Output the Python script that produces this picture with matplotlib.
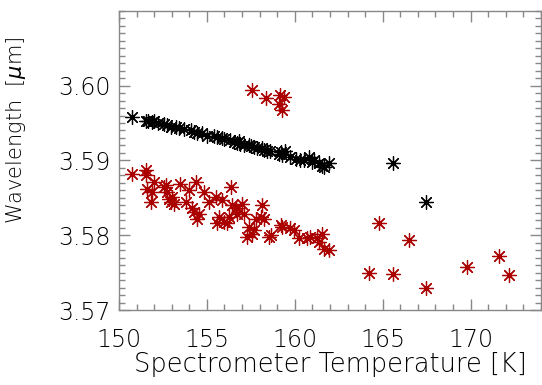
import matplotlib
matplotlib.use('Agg')
import matplotlib.pyplot as plt
from matplotlib.ticker import MultipleLocator, FixedLocator

# black series (wavelength vs spectrometer temperature)
black_temp = [150.72, 151.52, 151.67, 151.86, 151.99, 152.2, 152.56, 152.75, 152.94,
              153.22, 153.41, 153.7, 154.07, 154.26, 154.45, 154.73, 155.02, 155.4,
              155.6, 155.87, 156.0, 156.34, 156.53, 156.72, 156.82, 156.9, 157.1,
              157.39, 157.5, 157.67, 157.86, 158.14, 158.24, 158.43, 158.6, 159.09,
              159.2, 159.28, 159.47, 159.75, 160.04, 160.32, 160.5, 160.8, 160.98,
              161.1, 161.36, 161.55, 161.65, 161.93, 165.57, 167.46]
black_wave = [3.5958, 3.5953, 3.5952, 3.5951, 3.5953, 3.5950, 3.5948, 3.5947, 3.5945,
              3.5944, 3.5943, 3.5942, 3.5940, 3.5938, 3.5936, 3.5936, 3.5933, 3.5933,
              3.5931, 3.5930, 3.5929, 3.5927, 3.5924, 3.5923, 3.5926, 3.5922, 3.5921,
              3.5920, 3.5919, 3.5918, 3.5916, 3.5917, 3.5914, 3.5913, 3.5912, 3.5909,
              3.5911, 3.5907, 3.5913, 3.5904, 3.5902, 3.5900, 3.5901, 3.5904, 3.5898,
              3.5900, 3.5896, 3.5893, 3.5891, 3.5897, 3.5897, 3.5845]

# red series
red_temp = [157.58, 158.37, 159.13, 159.41, 159.09, 159.28,
            150.72, 151.52, 151.55, 151.61, 151.80, 151.89, 151.99, 152.56, 152.65,
            152.75, 152.84, 152.94, 153.03, 153.13, 153.45, 153.79, 153.98, 154.17,
            154.26, 154.39, 154.45, 154.55, 154.83, 155.11, 155.49, 155.59, 155.68,
            155.87, 155.97, 156.16, 156.25, 156.38, 156.44, 156.63, 156.72, 157.01,
            157.10, 157.29, 157.39, 157.58, 157.67, 157.77, 158.05, 158.14, 158.24,
            158.52, 158.62, 159.19, 159.28, 159.75, 159.94, 160.23, 160.70, 160.89,
            161.27, 161.36, 161.55, 161.65, 161.93,
            164.24, 164.77, 165.57, 166.48, 167.46, 169.81, 171.63, 172.16]
red_wave = [3.5994, 3.5984, 3.5988, 3.5985, 3.5976, 3.5967,
            3.5882, 3.5887, 3.5880, 3.5862, 3.5844, 3.5858, 3.5871, 3.5864, 3.5867,
            3.5858, 3.5849, 3.5844, 3.5851, 3.5842, 3.5869, 3.5844, 3.5860, 3.5836,
            3.5831, 3.5871, 3.5822, 3.5829, 3.5858, 3.5844, 3.5851, 3.5816, 3.5824,
            3.5847, 3.5818, 3.5816, 3.5824, 3.5864, 3.5840, 3.5836, 3.5829, 3.5842,
            3.5829, 3.5798, 3.5811, 3.5802, 3.5807, 3.5822, 3.5824, 3.5840, 3.5822,
            3.5798, 3.5800, 3.5813, 3.5811, 3.5809, 3.5807, 3.5796, 3.5796, 3.5798,
            3.5796, 3.5791, 3.5802, 3.5782, 3.5780,
            3.5749, 3.5816, 3.5748, 3.5793, 3.5730, 3.5757, 3.5772, 3.5747]

x_ticks = [150, 155, 160, 165, 170]
y_ticks = [3.57, 3.58, 3.59, 3.60]

plt.rcParams['font.family'] = 'DejaVu Sans'
plt.rcParams['font.weight'] = 'light'
plt.rcParams['axes.labelweight'] = 'light'
plt.rcParams['mathtext.fontset'] = 'dejavusans'
fig = plt.figure(figsize=(5.42, 3.85), dpi=100)
ax = fig.add_axes([0.2196, 0.1948, 0.7784, 0.7772])

star = (8, 2, 0)
ax.scatter(black_temp, black_wave, marker=star, s=100, linewidths=0.9, color='black')
ax.scatter(red_temp, red_wave, marker=star, s=100, linewidths=0.9, color='#aa0000')

ax.set_xlim(150, 174)
ax.set_ylim(3.57, 3.61)
ax.xaxis.set_major_locator(FixedLocator(x_ticks))
ax.xaxis.set_minor_locator(MultipleLocator(1))
ax.yaxis.set_major_locator(FixedLocator(y_ticks))
ax.yaxis.set_minor_locator(MultipleLocator(0.001))
ax.yaxis.set_major_formatter(plt.FormatStrFormatter('%.2f'))

ax.tick_params(which='both', direction='in', top=True, right=True, color='#888888',
               labelsize=17)
ax.tick_params(axis='x', pad=13)
ax.tick_params(axis='y', pad=6)
ax.tick_params(which='major', length=8, width=1)
ax.tick_params(which='minor', length=4, width=1)
for s in ax.spines.values():
    s.set_color('#888888')
    s.set_linewidth(1)

ax.set_xlabel('Spectrometer Temperature [K]', fontsize=18.5)
ax.set_ylabel('Wavelength  [$\\mu$m]', fontsize=15)
ax.xaxis.set_label_coords(0.502, -0.14)
ax.yaxis.set_label_coords(-0.215, 0.6)

fig.savefig('out.png', dpi=100)
